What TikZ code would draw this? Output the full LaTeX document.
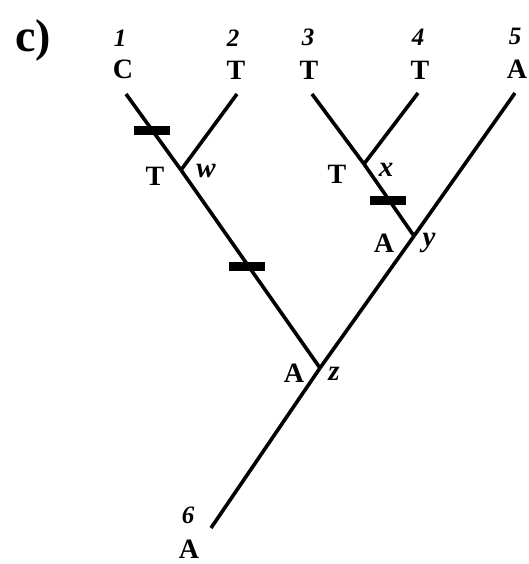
\documentclass[tikz,border=0pt]{standalone}
\usepackage{fontspec}
\setmainfont{Liberation Serif}
\begin{document}
\begin{tikzpicture}[x=1pt,y=-1pt,
  branch/.style={line width=3.6pt},
  tickmark/.style={fill=black, draw=none, minimum width=36pt, minimum height=9pt, inner sep=0pt, rectangle},
  state/.style={font=\fontsize{28}{28}\selectfont\bfseries, inner sep=0pt},
  num/.style={font=\fontsize{25}{25}\selectfont\bfseries\itshape, inner sep=0pt},
  lab/.style={font=\fontsize{29}{29}\selectfont\bfseries\itshape, inner sep=0pt}]
\useasboundingbox (0,0) rectangle (529,564);
% tree vertices
\coordinate (r) at (211,528);
\coordinate (z) at (320,368);
\coordinate (w) at (181,170);
\coordinate (y) at (414,236);
\coordinate (x) at (364,164);
\coordinate (l1) at (126,94);
\coordinate (l2) at (237,94);
\coordinate (l3) at (312,94);
\coordinate (l4) at (418,93);
\coordinate (l5) at (515,93);
% branches
\draw[branch] (r) -- (z);
\draw[branch] (z) -- (y);
\draw[branch] (y) -- (l5);
\draw[branch] (z) -- (w);
\draw[branch] (w) -- (l1);
\draw[branch] (w) -- (l2);
\draw[branch] (y) -- (x);
\draw[branch] (x) -- (l3);
\draw[branch] (x) -- (l4);
% character-change ticks
\node[tickmark] (t1) at (152,131) {};
\node[tickmark] (t2) at (247,266) {};
\node[tickmark] (t3) at (388,200) {};
% panel label
\node[font=\fontsize{46}{46}\selectfont\bfseries, inner sep=0pt] (panel) at (33,40) {c)};
% leaf numbers and states
\node[num] (n1) at (120,38) {1};
\node[state] (s1) at (123,69) {C};
\node[num] (n2) at (233,38) {2};
\node[state] (s2) at (236,70) {T};
\node[num] (n3) at (308,37) {3};
\node[state] (s3) at (309,70) {T};
\node[num] (n4) at (418,37) {4};
\node[state] (s4) at (420,70) {T};
\node[num] (n5) at (515,36) {5};
\node[state] (s5) at (517,69) {A};
\node[num] (n6) at (188,515) {6};
\node[state] (s6) at (189,549) {A};
% internal states and node names
\node[state] (sw) at (155,176) {T};
\node[lab] (lw) at (206,171) {w};
\node[state] (sx) at (337,174) {T};
\node[lab] (lx) at (386,170) {x};
\node[state] (sy) at (384,243) {A};
\node[lab] (ly) at (429,243) {y};
\node[state] (sz) at (294,373) {A};
\node[lab] (lz) at (334,374) {z};
\end{tikzpicture}
\end{document}
